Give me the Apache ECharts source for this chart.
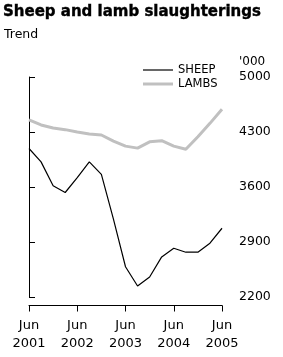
<!DOCTYPE html>
<html><head><meta charset="utf-8">
<script src="https://cdn.jsdelivr.net/npm/echarts@6/dist/echarts.min.js"></script>
<style>html,body{margin:0;padding:0;background:#fff}#c{width:283px;height:357px}</style>
</head><body><div id="c"></div>
<script>
// Quarterly, Jun 2001 .. Jun 2005
const quarterIndex = [0,1,2,3,4,5,6,7,8,9,10,11,12,13,14,15,16];
const sheep = [4090,3920,3615,3530,3720,3920,3760,3190,2585,2340,2455,2710,2820,2770,2770,2885,3075];
const lambs = [4455,4390,4350,4330,4300,4275,4262,4185,4120,4095,4175,4190,4120,4080,4240,4410,4590];
const xTickPos = [0,4,8,12,16];
const xTickLabels = ['Jun\n2001','Jun\n2002','Jun\n2003','Jun\n2004','Jun\n2005'];
const yTicks = [2200,2900,3600,4300,5000];

const FONT = 'DejaVu Sans';
const chart = echarts.init(document.getElementById('c'), null, {renderer:'canvas'});
chart.setOption({
  animation:false,
  backgroundColor:'#fff',
  title:[
    {text:'Sheep and lamb slaughterings', left:3, top:5, padding:0,
     textStyle:{fontFamily:FONT, fontWeight:'bold', fontSize:15, color:'#000',
       textBorderColor:'#000', textBorderWidth:0.4}},
    {text:'Trend', left:4, top:28, padding:0,
     textStyle:{fontFamily:FONT, fontWeight:'normal', fontSize:12.5, color:'#000'}},
    {text:"'000", left:239, top:56, padding:0,
     textStyle:{fontFamily:FONT, fontWeight:'normal', fontSize:12, color:'#000'}}
  ],
  legend:{
    orient:'vertical', left:143, top:64, padding:0, itemGap:2,
    itemWidth:30, itemHeight:14,
    textStyle:{fontFamily:FONT, fontSize:11.5, color:'#000'},
    data:[
      {name:'SHEEP', icon:'path://M0,0H30V1.2H0Z'},
      {name:'LAMBS', icon:'path://M0,0H30V3H0Z'}
    ]
  },
  grid:{left:29, right:61, top:77, bottom:60, containLabel:false},
  xAxis:{
    type:'value', min:0, max:16, position:'bottom', offset:8.5,
    splitLine:{show:false},
    axisLine:{show:true, lineStyle:{color:'#000', width:1}},
    axisTick:{show:true, inside:false, length:6, lineStyle:{color:'#000'}, customValues:xTickPos},
    axisLabel:{fontFamily:FONT, fontSize:13, color:'#000', lineHeight:18, margin:11,
      customValues:xTickPos,
      formatter:function(v){const i=xTickPos.indexOf(v);return i>=0?xTickLabels[i]:'';}}
  },
  yAxis:{
    type:'value', min:2200, max:5000, position:'right', offset:9,
    splitLine:{show:false},
    axisLine:{show:true, lineStyle:{color:'#000', width:1}},
    axisTick:{show:true, inside:false, length:6, lineStyle:{color:'#000'}, customValues:yTicks},
    axisLabel:{fontFamily:FONT, fontSize:12.5, color:'#000', margin:8, customValues:yTicks,
      formatter:function(v){return String(v);}}
  },
  series:[
    {name:'SHEEP', type:'line', symbol:'none', data:quarterIndex.map((q,i)=>[q,sheep[i]]),
     lineStyle:{color:'#000', width:1.2}, itemStyle:{color:'#000'}, z:3},
    {name:'LAMBS', type:'line', symbol:'none', data:quarterIndex.map((q,i)=>[q,lambs[i]]),
     lineStyle:{color:'#c0c0c0', width:3}, itemStyle:{color:'#c0c0c0'}, z:2}
  ]
});
</script></body></html>
